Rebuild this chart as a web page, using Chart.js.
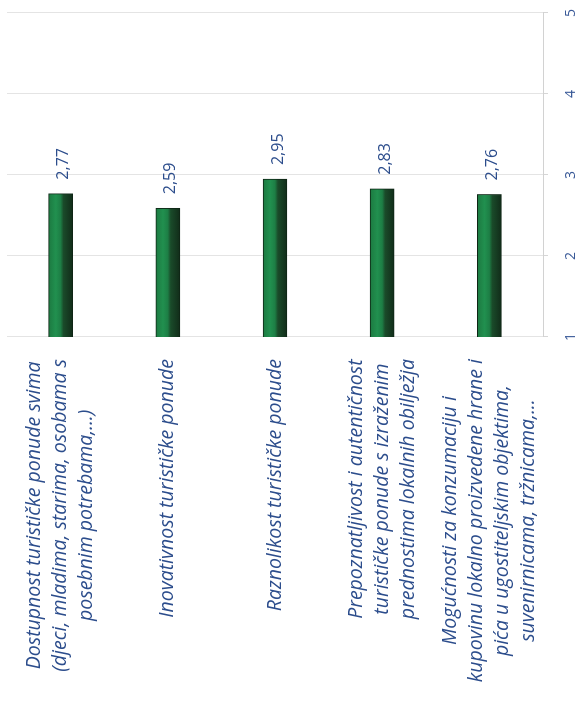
<!DOCTYPE html>
<html>
<head>
<meta charset="utf-8">
<script src="https://cdn.jsdelivr.net/npm/chart.js@4"></script>
<style>
  html, body { margin: 0; padding: 0; background: #ffffff; overflow: hidden; }
  #wrap {
    position: absolute; left: 0; top: 0;
    width: 709px; height: 578px;
    transform-origin: 0 0;
    transform: translate(0px, 709px) rotate(-90deg);
    background: #ffffff;
  }
</style>
</head>
<body>
<div id="wrap"><canvas id="c" width="709" height="578"></canvas></div>
<script>
const categories = [
  ["Dostupnost turističke ponude svima", "(djeci, mladima, starima, osobama s", "posebnim potrebama,...)"],
  ["Inovativnost turističke ponude"],
  ["Raznolikost turističke ponude"],
  ["Prepoznatljivost i autentičnost", "turističke ponude s izraženim", "prednostima lokalnih obilježja"],
  ["Mogućnosti za konzumaciju i", "kupovinu lokalno proizvedene hrane i", "pića u ugostiteljskim objektima,", "suvenirnicama, tržnicama,..."]
];
const values = [2.77, 2.59, 2.95, 2.83, 2.76];
const valueTicks = [1, 2, 3, 4, 5];

const TEXT_BLUE = '#2c4d8c';
const LABEL_FONT = 'italic 19.5px "Open Sans"';

function fmt(v) { return v.toFixed(2).replace('.', ','); }

const categoryLabelPlugin = {
  id: 'categoryLabels',
  afterDraw(chart) {
    const ctx = chart.ctx;
    const ys = chart.scales.y;
    const rightEdge = chart.chartArea.left - 22;
    const lh = 26;
    ctx.save();
    ctx.font = LABEL_FONT;
    ctx.fillStyle = TEXT_BLUE;
    ctx.textAlign = 'center';
    ctx.textBaseline = 'middle';
    categories.forEach((lines, i) => {
      const yc = ys.getPixelForValue(i);
      let widest = 0;
      lines.forEach(l => { widest = Math.max(widest, ctx.measureText(l).width); });
      const xc = rightEdge - widest / 2;
      lines.forEach((l, j) => {
        const y = yc + (j - (lines.length - 1) / 2) * lh;
        ctx.fillText(l, xc, y);
      });
    });
    ctx.restore();
  }
};

const valueLabelPlugin = {
  id: 'valueLabels',
  afterDatasetsDraw(chart) {
    const ctx = chart.ctx;
    const meta = chart.getDatasetMeta(0);
    ctx.save();
    ctx.font = '16px "Open Sans"';
    ctx.fillStyle = TEXT_BLUE;
    ctx.textAlign = 'left';
    ctx.textBaseline = 'middle';
    meta.data.forEach((el, i) => {
      ctx.fillText(fmt(values[i]), el.x + 14, el.y + 3);
    });
    ctx.restore();
  }
};

function makeGradient(ctx, yc, h) {
  const g = ctx.createLinearGradient(0, yc - h / 2, 0, yc + h / 2);
  g.addColorStop(0, '#1c7a41');
  g.addColorStop(0.3, '#21904f');
  g.addColorStop(0.5, '#1d7e45');
  g.addColorStop(0.62, '#1a4b2a');
  g.addColorStop(1, '#112c19');
  return g;
}

const barGradientPlugin = {
  id: 'barGradient',
  beforeDatasetsDraw(chart) {
    const ctx = chart.ctx;
    const meta = chart.getDatasetMeta(0);
    meta.data.forEach(el => {
      const h = el.height;
      if (!isFinite(el.y) || !isFinite(h)) return;
      el.options = Object.assign({}, el.options, { backgroundColor: makeGradient(ctx, el.y, h) });
    });
  }
};

new Chart(document.getElementById('c'), {
  type: 'bar',
  data: {
    labels: categories.map(l => l.join(' ')),
    datasets: [{
      data: values,
      backgroundColor: (c) => '#1d7e45',
      borderColor: '#0e2515',
      borderWidth: 1,
      borderSkipped: false,
      barThickness: 24
    }]
  },
  plugins: [barGradientPlugin, categoryLabelPlugin, valueLabelPlugin],
  options: {
    indexAxis: 'y',
    responsive: false,
    animation: false,
    devicePixelRatio: 1,
    layout: { padding: { top: 7, right: 13, left: 0, bottom: 0 } },
    plugins: { legend: { display: false }, tooltip: { enabled: false }, title: { display: false } },
    scales: {
      x: {
        type: 'linear',
        position: 'bottom',
        min: valueTicks[0],
        max: valueTicks[valueTicks.length - 1],
        afterBuildTicks(scale) { scale.ticks = valueTicks.map(v => ({ value: v })); },
        ticks: {
          color: '#3a5a98',
          font: { family: '"Open Sans"', size: 14 },
          padding: 15,
          maxRotation: 0,
          callback: v => String(v)
        },
        grid: { color: '#e4e4e4', lineWidth: 1, tickLength: 5, drawTicks: true, tickColor: '#d6d6d6' },
        border: { display: true, color: '#d2d2d2' },
        afterFit(scale) { scale.height = 35; scale.paddingLeft = 0; scale.paddingRight = 0; }
      },
      y: {
        type: 'category',
        ticks: { display: false },
        grid: { display: false },
        border: { display: false },
        afterFit(scale) { scale.width = 372; }
      }
    }
  }
});
</script>
</body>
</html>
